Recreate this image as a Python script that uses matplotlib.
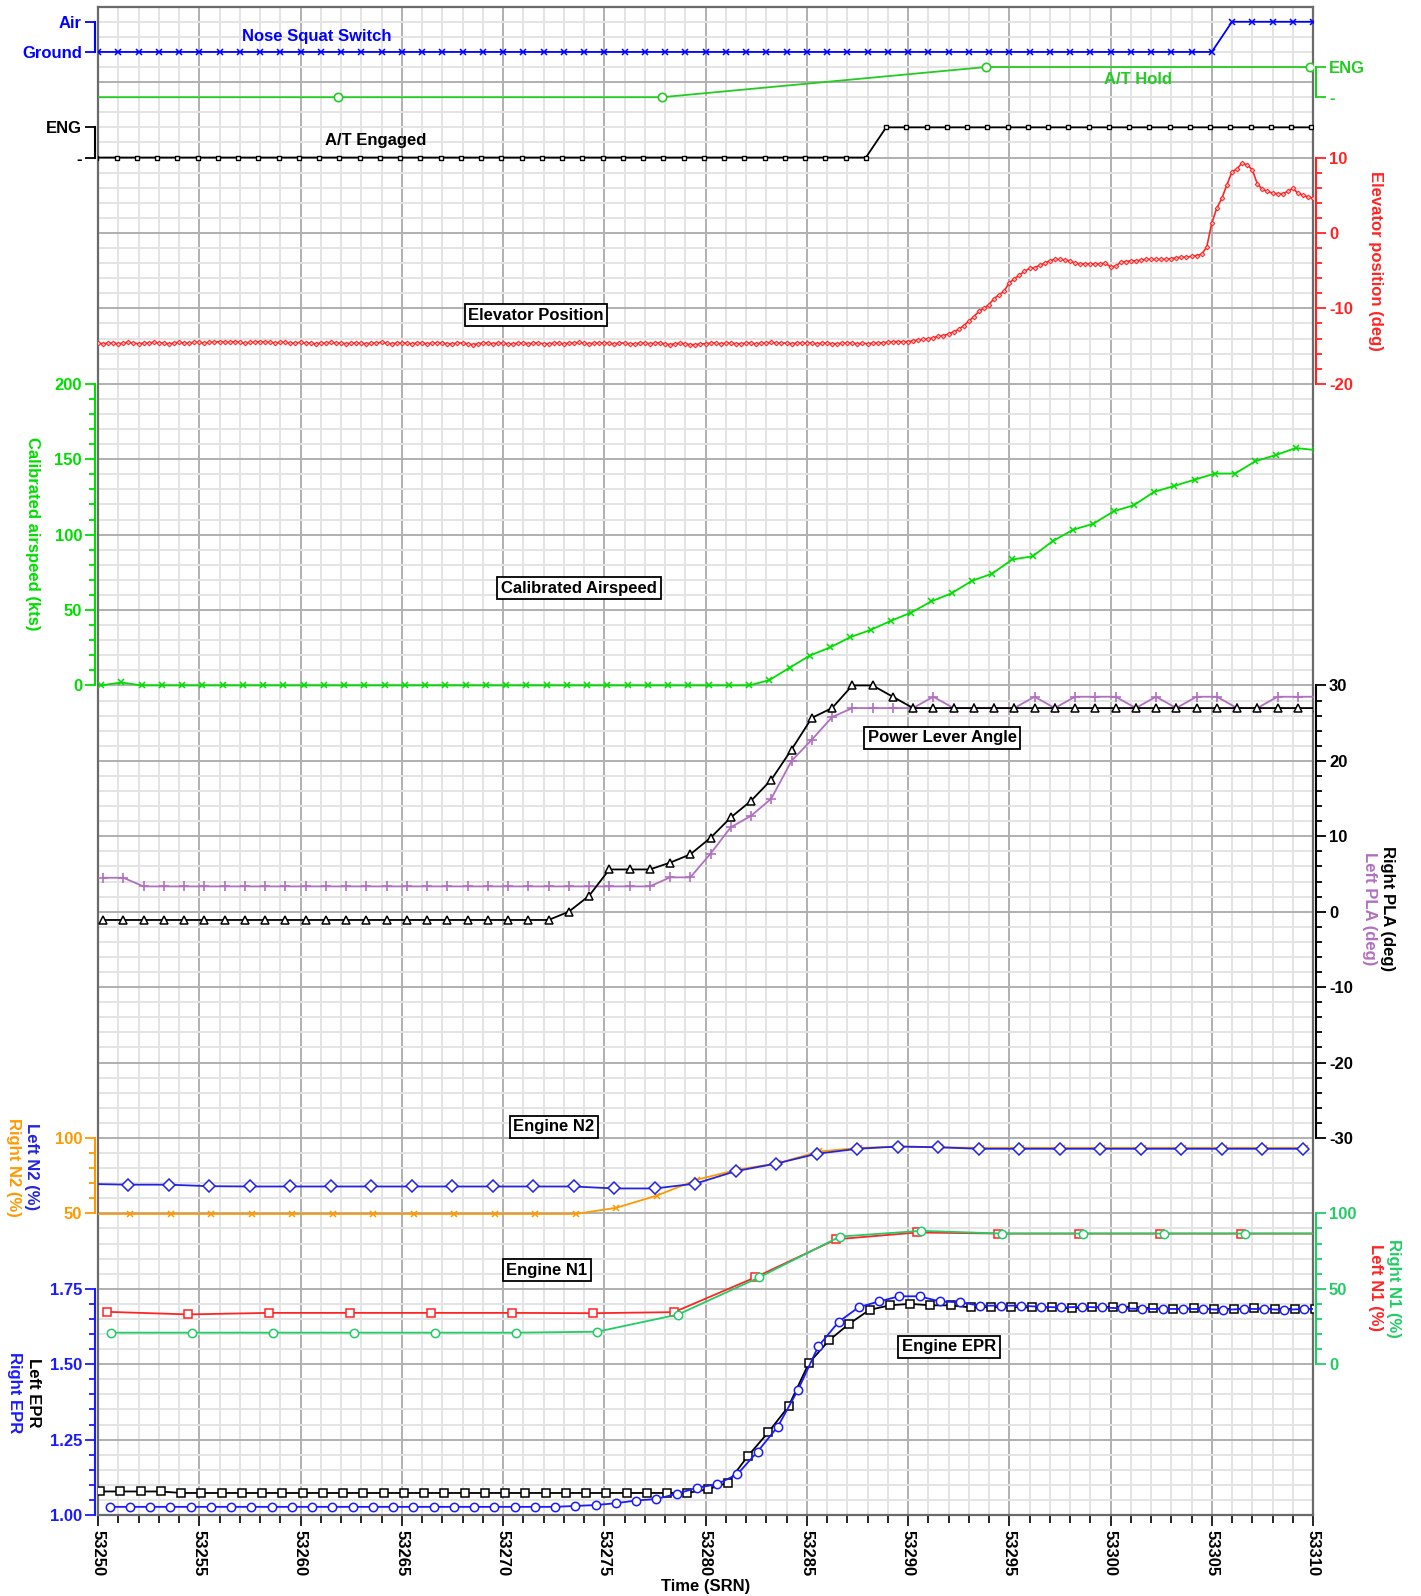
import numpy as np
import matplotlib.pyplot as plt

plt.rcParams['font.family'] = ['Liberation Sans', 'DejaVu Sans']
plt.rcParams['font.weight'] = 'bold'
plt.rcParams['axes.labelweight'] = 'bold'
plt.rcParams['font.size'] = 12
plt.rcParams['axes.unicode_minus'] = False

# ---------------- data (time in SRN) ----------------

# Nose squat switch: 0 = Ground, 1 = Air
squat_t = np.arange(53250, 53311, 1.0)
squat = [0] * 56 + [1] * 5

# A/T Hold: 0 = '-', 1 = ENG
hold_t = [53245.85, 53261.85, 53277.85, 53293.85, 53309.85]
hold = [0, 0, 0, 1, 1]

# A/T Engaged: 0 = '-', 1 = ENG
ateng_t = np.arange(53249.92, 53311, 1.0)
ateng = [0] * 39 + [1] * 23

# Elevator position (deg), 4 samples per SRN
elev_t = np.arange(53250, 53310.001, 0.25)
elev = [
    -14.6, -14.7, -14.6, -14.6, -14.7, -14.6, -14.5, -14.6, -14.7, -14.6,
    -14.6, -14.5, -14.6, -14.6, -14.7, -14.6, -14.5, -14.6, -14.6, -14.5,
    -14.5, -14.6, -14.5, -14.5, -14.4, -14.5, -14.5, -14.4, -14.5, -14.6,
    -14.5, -14.5, -14.4, -14.5, -14.5, -14.6, -14.5, -14.5, -14.6, -14.6,
    -14.5, -14.6, -14.6, -14.7, -14.6, -14.6, -14.5, -14.6, -14.6, -14.7,
    -14.6, -14.6, -14.6, -14.7, -14.6, -14.6, -14.5, -14.6, -14.7, -14.6,
    -14.6, -14.6, -14.7, -14.6, -14.6, -14.7, -14.6, -14.6, -14.6, -14.7,
    -14.7, -14.6, -14.6, -14.7, -14.8, -14.7, -14.6, -14.6, -14.7, -14.6,
    -14.6, -14.7, -14.7, -14.6, -14.6, -14.7, -14.6, -14.6, -14.7, -14.7,
    -14.6, -14.6, -14.7, -14.6, -14.6, -14.5, -14.6, -14.7, -14.6, -14.6,
    -14.6, -14.6, -14.7, -14.6, -14.6, -14.7, -14.7, -14.6, -14.6, -14.7,
    -14.6, -14.6, -14.7, -14.8, -14.7, -14.6, -14.7, -14.8, -14.8, -14.7,
    -14.7, -14.6, -14.6, -14.7, -14.6, -14.6, -14.7, -14.7, -14.6, -14.6,
    -14.7, -14.6, -14.6, -14.5, -14.6, -14.6, -14.6, -14.7, -14.6, -14.6,
    -14.6, -14.6, -14.7, -14.6, -14.6, -14.7, -14.7, -14.6, -14.6, -14.6,
    -14.7, -14.6,
    -14.7, -14.6, -14.6, -14.55, -14.5, -14.45, -14.4, -14.45,
    -14.4, -14.3, -14.2, -14.1, -14.05, -13.9, -13.7, -13.6,
    -13.4, -13.1, -12.8, -12.3, -11.7, -11.1, -10.4, -10.0,
    -9.5, -8.7, -8.2, -7.7, -6.6, -6.1, -5.6, -5.1,
    -4.7, -4.6, -4.3, -4.0, -3.7, -3.5, -3.5, -3.6,
    -3.7, -4.0, -4.1, -4.1, -4.1, -4.1, -4.1, -4.0,
    -4.5, -4.4, -3.9, -3.8, -3.7, -3.7, -3.6, -3.5,
    -3.5, -3.5, -3.5, -3.5, -3.4, -3.3, -3.2, -3.2,
    -3.1, -3.0, -2.8, -1.9, 1.3, 3.3, 4.6, 6.4,
    8.1, 8.5, 9.3, 9.0, 8.4, 6.5, 5.8, 5.5,
    5.3, 5.2, 5.2, 5.5, 5.9, 5.3, 5.0, 4.8,
    4.6,
]

# Calibrated airspeed (kts)
cas_t = np.arange(53250.15, 53311, 1.0)
cas = [0, 2] + [0] * 31 + [
    3.5, 11.7, 19.8, 25.2, 32.0, 36.8, 42.8, 48.3, 55.7, 61.1,
    69.3, 74.1, 83.5, 85.6, 95.7, 103.2, 107.2, 115.4, 119.5, 128.3,
    132.3, 136.4, 140.5, 140.5, 148.6, 152.7, 157.4, 156.0,
]

# Power lever angle (deg)
pla_t = np.arange(53250.25, 53311, 1.0)
pla_right = [-1.1] * 23 + [
    0.0, 2.1, 5.6, 5.6, 5.6, 6.5, 7.6, 9.8, 12.5, 14.7,
    17.5, 21.5, 25.7, 27.0, 30.0, 30.0, 28.5,
] + [27.0] * 21
pla_left = [4.5, 4.5] + [3.35] * 26 + [
    4.55, 4.55, 7.7, 11.2, 12.7, 15.0, 20.0, 22.8, 25.8, 27.0,
    27.0, 27.0, 27.0,
    28.5, 27.0, 27.0, 27.0, 27.0, 28.5, 27.0, 28.5, 28.5, 28.5,
    27.0, 28.5, 27.0, 28.5, 28.5, 27.0, 27.0, 28.5, 28.5, 28.5,
]

# Engine N2 (%)
n2l_t = np.arange(53249.5, 53311, 2.0)
n2_left = [69.5, 69.0, 69.0, 68.0] + [67.8] * 9 + [
    66.5, 66.5, 69.7, 78.0, 83.0, 89.5, 92.8, 94.3, 93.8,
] + [92.8] * 9
n2r_t = np.arange(53249.6, 53311, 2.0)
n2_right = [49.6] * 13 + [
    53.7, 61.8, 72.4, 79.0, 83.3, 91.0, 93.4, 94.3, 93.8,
] + [93.4] * 9

# Engine N1 (%)
n1l_t = np.arange(53250.45, 53311, 4.0)
n1_left = [34.7, 33.0, 34.0, 34.0, 34.0, 34.0, 33.8, 34.5,
           57.5, 82.8, 87.3, 86.6, 86.6, 86.6, 86.6, 86.6]
n1r_t = np.arange(53250.64, 53311, 4.0)
n1_right = [20.9, 20.9, 20.9, 20.9, 20.9, 20.9, 21.5, 32.9,
            57.5, 84.6, 88.4, 86.6, 86.6, 86.6, 86.6, 86.6]

# Engine EPR
eprl_t = np.arange(53250.1, 53311, 1.0)
epr_left = [1.078] * 4 + [1.073] * 26 + [
    1.085, 1.107, 1.196, 1.274, 1.36, 1.503, 1.579, 1.634, 1.680, 1.695,
    1.700, 1.695, 1.695, 1.688, 1.689, 1.689,
    1.688, 1.688, 1.685, 1.688, 1.69, 1.69, 1.685, 1.683, 1.685, 1.683,
    1.683, 1.685, 1.683, 1.683, 1.683,
]
eprr_t = np.arange(53250.57, 53311, 1.0)
epr_right = [1.027] * 23 + [
    1.030, 1.033, 1.039, 1.048, 1.053, 1.070, 1.090, 1.102, 1.135, 1.210,
    1.293, 1.415, 1.559, 1.640, 1.689, 1.708, 1.725, 1.725, 1.708, 1.705,
    1.694, 1.694, 1.694,
    1.69, 1.688, 1.69, 1.688, 1.685, 1.683, 1.683, 1.683, 1.683, 1.68,
    1.683, 1.683, 1.68, 1.683, 1.683,
]

# ---------------- colours ----------------
BLUE = '#0000ff'
GREEN_AT = '#22cc22'
RED = '#ff2424'
LIME = '#00dd00'
PURPLE = '#b070c0'
ORANGE = '#ff9900'
N1GREEN = '#22cc66'
EPRBLUE = '#1a1aff'

# ---------------- layout (pixels of the 1421x1596 picture) ----------------
W, H = 1421.0, 1596.0
L, R, T, B = 98, 1313, 6.7, 1515
ROWS = 20  # the grid has 20 major rows, each split in 5

fig = plt.figure(figsize=(W / 100, H / 100), dpi=100)
rect = [L / W, 1 - B / H, (R - L) / W, (B - T) / H]


def fx(px):
    return px / W


def fy(py):
    return 1 - py / H


# Main axes: carries the grid and the time axis
ax = fig.add_axes(rect)
ax.set_xlim(53250, 53310)
ax.set_ylim(ROWS, 0)
ax.xaxis.set_major_locator(plt.MultipleLocator(5))
ax.xaxis.set_minor_locator(plt.MultipleLocator(1))
ax.xaxis.set_major_formatter('{x:.0f}')
ax.yaxis.set_major_locator(plt.MultipleLocator(1))
ax.yaxis.set_minor_locator(plt.MultipleLocator(0.2))
ax.grid(which='minor', color='#e4e4e4', lw=1.4)
ax.grid(which='major', color='#b0b0b0', lw=1.4)
ax.set_axisbelow(True)
ax.tick_params(axis='y', which='both', left=False, labelleft=False)
ax.tick_params(axis='x', which='major', direction='out', length=8, width=1.2,
               labelrotation=270, pad=3)
ax.tick_params(axis='x', which='minor', direction='out', length=6, width=1.2)
for lab in ax.get_xticklabels():
    lab.set_fontweight('bold')
for sp in ax.spines.values():
    sp.set_color('#6a6a6a')
    sp.set_linewidth(1.6)
ax.set_xlabel('Time (SRN)', labelpad=2, fontweight='bold')


def band(side, color, v_top, r_top, v_bot, r_bot, major, minor=None, labels=None):
    """Transparent axes over the plot whose scale puts v_top on grid row
    r_top and v_bot on grid row r_bot, with a spine only over that range."""
    a = fig.add_axes(rect, sharex=ax)
    a.patch.set_visible(False)
    a.set_yticks(major, labels=labels)
    if minor is not None:
        a.set_yticks(minor, minor=True)
    per_row = (v_top - v_bot) / (r_bot - r_top)
    a.set_ylim(v_bot - (ROWS - r_bot) * per_row, v_top + r_top * per_row)
    for name, sp in a.spines.items():
        sp.set_visible(name == side)
    sp = a.spines[side]
    sp.set_bounds(v_bot, v_top)
    sp.set_position(('outward', 2.5))
    sp.set_color(color)
    sp.set_linewidth(1.5)
    a.tick_params(axis='x', which='both', bottom=False, top=False,
                  labelbottom=False)
    a.yaxis.set_ticks_position(side)
    a.tick_params(axis='y', which='both', colors=color, direction='out',
                  width=1.3, pad=2)
    a.tick_params(axis='y', which='major', length=7)
    a.tick_params(axis='y', which='minor', length=4)
    return a


# Nose squat switch
a = band('left', BLUE, 1, 0.2, 0, 0.6, [0, 1], labels=['Ground', 'Air'])
a.plot(squat_t, squat, color=BLUE, lw=1.3, marker='x', ms=5, mew=1.1)

# A/T Hold
a = band('right', GREEN_AT, 1, 0.8, 0, 1.2, [0, 1], labels=['-', 'ENG'])
a.plot(hold_t, hold, color=GREEN_AT, lw=1.3, marker='o', ms=6,
       mfc='white', mew=1.2)

# A/T Engaged
a = band('left', 'black', 1, 1.6, 0, 2.0, [0, 1], labels=['-', 'ENG'])
a.plot(ateng_t, ateng, color='black', lw=1.3, marker='s', ms=3.5,
       mfc='white', mew=1.0)

# Elevator position
a = band('right', RED, 10, 2, -20, 5, [-20, -10, 0, 10],
         minor=np.arange(-18, 10, 2))
a.plot(elev_t, elev, color=RED, lw=1.2, marker='D', ms=2.4,
       mfc='#ffb4b4', mec=RED, mew=0.7)

# Calibrated airspeed
a = band('left', LIME, 200, 5, 0, 9, [0, 50, 100, 150, 200],
         minor=np.arange(10, 200, 10))
a.plot(cas_t, cas, color=LIME, lw=1.3, marker='x', ms=5, mew=1.1)

# Power lever angle
a = band('right', 'black', 30, 9, -30, 15, [-30, -20, -10, 0, 10, 20, 30],
         minor=np.arange(-28, 30, 2))
a.plot(pla_t, pla_left, color=PURPLE, lw=1.3, marker='+', ms=7, mew=1.2)
a.plot(pla_t, pla_right, color='black', lw=1.3, marker='^', ms=6,
       mfc='white', mew=1.1)

# Engine N2
a = band('left', ORANGE, 100, 15, 50, 16, [50, 100], minor=[60, 70, 80, 90])
a.plot(n2r_t, n2_right, color=ORANGE, lw=1.3, marker='x', ms=5, mew=1.1)
a.plot(n2l_t, n2_left, color='#2424e0', lw=1.3, marker='D', ms=6,
       mfc='white', mew=1.1)

# Engine N1
a = band('right', N1GREEN, 100, 16, 0, 18, [0, 50, 100],
         minor=np.arange(10, 100, 10))
a.plot(n1l_t, n1_left, color=RED, lw=1.3, marker='s', ms=6,
       mfc='white', mew=1.1)
a.plot(n1r_t, n1_right, color=N1GREEN, lw=1.3, marker='o', ms=6,
       mfc='white', mew=1.1)

# Engine EPR
a = band('left', EPRBLUE, 1.75, 17, 1.0, 20, [1.0, 1.25, 1.5, 1.75],
         minor=np.arange(1.05, 1.75, 0.05),
         labels=['1.00', '1.25', '1.50', '1.75'])
a.plot(eprl_t, epr_left, color='black', lw=1.3, marker='s', ms=6,
       mfc='white', mew=1.1)
a.plot(eprr_t, epr_right, color=EPRBLUE, lw=1.3, marker='o', ms=6,
       mfc='white', mew=1.1)

# Axis titles
rot = dict(rotation=270, ha='center', va='center')
fig.text(fx(32), fy(534), 'Calibrated airspeed (kts)', color=LIME, **rot)
fig.text(fx(31), fy(1167), 'Left N2 (%)', color='#2424e0', **rot)
fig.text(fx(13), fy(1167), 'Right N2 (%)', color=ORANGE, **rot)
fig.text(fx(33), fy(1393), 'Left EPR', color='black', **rot)
fig.text(fx(14), fy(1393), 'Right EPR', color=EPRBLUE, **rot)
fig.text(fx(1376), fy(261), 'Elevator position (deg)', color=RED, **rot)
fig.text(fx(1388), fy(909), 'Right PLA (deg)', color='black', **rot)
fig.text(fx(1370), fy(909), 'Left PLA (deg)', color=PURPLE, **rot)
fig.text(fx(1393), fy(1288), 'Right N1 (%)', color=N1GREEN, **rot)
fig.text(fx(1376), fy(1288), 'Left N1 (%)', color=RED, **rot)

# Trace names
fig.text(fx(317), fy(36), 'Nose Squat Switch', color=BLUE, ha='center', va='center')
fig.text(fx(1138), fy(80), 'A/T Hold', color=GREEN_AT, ha='center', va='center')
fig.text(fx(376), fy(141), 'A/T Engaged', color='black', ha='center', va='center')
box = dict(boxstyle='square,pad=0.22', fc='white', ec='black', lw=1.3)
for txt, px, py in [('Elevator Position', 536, 315),
                    ('Calibrated Airspeed', 579, 588),
                    ('Power Lever Angle', 942, 738),
                    ('Engine N2', 554, 1127),
                    ('Engine N1', 547, 1270),
                    ('Engine EPR', 949, 1347)]:
    fig.text(fx(px), fy(py), txt, ha='center', va='center', bbox=box)

fig.savefig('out.png', dpi=100)
plt.close()
